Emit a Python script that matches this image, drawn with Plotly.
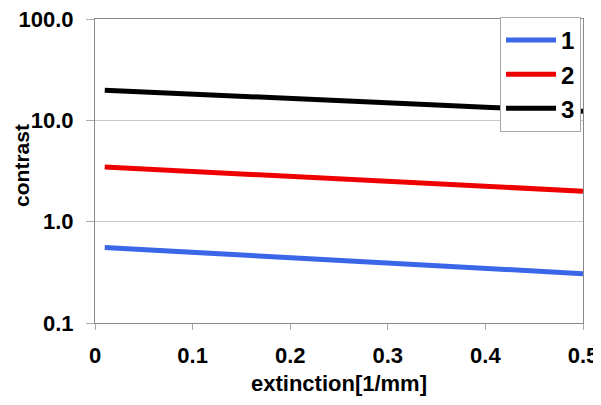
import plotly.graph_objects as go

extinction = [0.01, 0.05, 0.10, 0.15, 0.20, 0.25, 0.30, 0.35, 0.40, 0.45, 0.50]
contrast_1 = [0.555, 0.528, 0.498, 0.469, 0.442, 0.416, 0.392, 0.368, 0.347, 0.327, 0.307]
contrast_2 = [3.46, 3.31, 3.14, 2.97, 2.82, 2.67, 2.53, 2.40, 2.27, 2.15, 2.00]
contrast_3 = [19.8, 19.1, 18.2, 17.3, 16.5, 15.6, 14.9, 14.2, 13.5, 12.9, 12.3]
series_names = ["1", "2", "3"]
x_tick_vals = [0, 0.1, 0.2, 0.3, 0.4, 0.5]
x_tick_text = ["0", "0.1", "0.2", "0.3", "0.4", "0.5"]
y_tick_vals = [0.1, 1, 10, 100]
y_tick_text = ["0.1", "1.0", "10.0", "100.0"]

colors = ["#3a66e8", "#ee0000", "#000000"]

fig = go.Figure()
for name, ys, c in zip(series_names, [contrast_1, contrast_2, contrast_3], colors):
    fig.add_trace(go.Scatter(x=extinction, y=ys, name=name, mode="lines",
                             line=dict(color=c, width=5)))

font_fam = "Liberation Sans, Arial, sans-serif"
# page body has an 8px margin, so the figure is 8px smaller and shifted
fig.update_layout(
    width=593, height=397,
    margin=dict(l=87, r=18, t=9, b=82),
    paper_bgcolor="white", plot_bgcolor="white",
    font=dict(family=font_fam, color="black"),
    showlegend=True,
    legend=dict(x=0.996, y=1.007, xanchor="right", yanchor="top",
                bgcolor="white", bordercolor="#a8a8a8", borderwidth=1,
                font=dict(size=24, family=font_fam, color="black", weight="bold"),
                itemwidth=50, traceorder="normal"),
    xaxis=dict(range=[0, 0.5], tickvals=x_tick_vals, ticktext=x_tick_text, automargin=False,
               showgrid=False, zeroline=False, showline=True, linecolor="#888888",
               linewidth=1, mirror=True, ticks="outside", ticklen=6, tickcolor="#aaaaaa",
               ticklabelstandoff=7,
               tickfont=dict(size=22, weight="bold"),
               title=dict(text="extinction[1/mm]", font=dict(size=22, weight="bold"), standoff=8)),
    yaxis=dict(type="log", range=[-1, 2], tickvals=y_tick_vals, ticktext=y_tick_text,
               automargin=False,
               showgrid=True, gridcolor="#c8c8c8", gridwidth=1, zeroline=False,
               showline=True, linecolor="#888888", linewidth=1, mirror=True,
               ticks="outside", ticklen=8, tickcolor="#aaaaaa",
               ticklabelstandoff=8, ticklabeloverflow="allow",
               tickfont=dict(size=22, weight="bold")),
    annotations=[dict(text="contrast", textangle=-90, xref="paper", yref="paper",
                      x=-0.1496, y=0.52, xanchor="center", yanchor="middle", showarrow=False,
                      font=dict(size=21, weight="bold", family=font_fam, color="black"))],
)

fig.write_html("out.html")
